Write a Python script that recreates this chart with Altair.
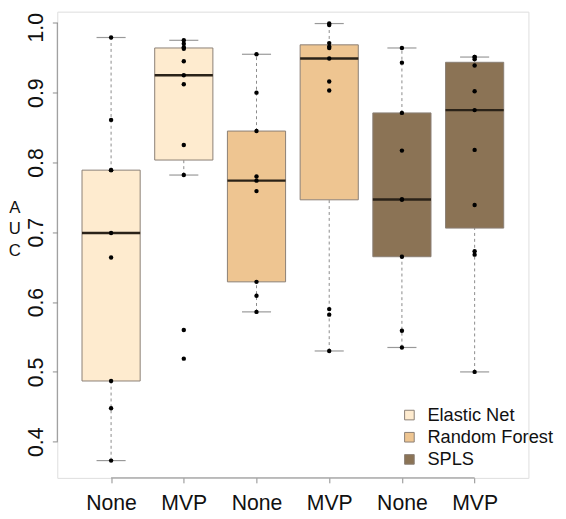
import json
import altair as alt
import pandas as pd

# ---- data ----
methods = ["Elastic Net", "Random Forest", "SPLS"]
conditions = ["None", "MVP"]
fills = ["#FEEBCF", "#EEC591", "#8B7355"]

auc_en_none = [0.979, 0.861, 0.789, 0.789, 0.699, 0.664, 0.487, 0.448, 0.373]
auc_en_mvp = [0.975, 0.970, 0.965, 0.963, 0.945, 0.925, 0.912, 0.825, 0.782, 0.560, 0.519]
auc_rf_none = [0.955, 0.900, 0.845, 0.780, 0.774, 0.759, 0.629, 0.609, 0.586]
auc_rf_mvp = [0.999, 0.997, 0.971, 0.966, 0.964, 0.949, 0.916, 0.903, 0.590, 0.582, 0.530]
auc_spls_none = [0.964, 0.943, 0.871, 0.817, 0.747, 0.747, 0.665, 0.559, 0.535]
auc_spls_mvp = [0.951, 0.951, 0.948, 0.939, 0.902, 0.875, 0.818, 0.739, 0.673, 0.668, 0.500]

y_ticks = [0.4, 0.5, 0.6, 0.7, 0.8, 0.9, 1.0]
x_labels = ["None", "MVP", "None", "MVP", "None", "MVP"]
y_title_letters = ["A", "U", "C"]

groups = [
    ("Elastic Net", "None", auc_en_none),
    ("Elastic Net", "MVP", auc_en_mvp),
    ("Random Forest", "None", auc_rf_none),
    ("Random Forest", "MVP", auc_rf_mvp),
    ("SPLS", "None", auc_spls_none),
    ("SPLS", "MVP", auc_spls_mvp),
]
rows = []
for i, (m, c, vals) in enumerate(groups):
    for v in vals:
        rows.append({"pos": i + 1, "method": m, "cond": c, "auc": v})
df = pd.DataFrame(rows)

FONT = "Liberation Sans"
AXIS_GRAY = "#8c8c8c"
BOX_STROKE = "#8a7f75"

xs = alt.Scale(domain=[0.26, 6.74], nice=False, zero=False)
ys = alt.Scale(domain=[0.3482, 1.016], nice=False, zero=False)

label_expr = json.dumps(x_labels) + "[datum.value - 1]"
xaxis = alt.Axis(values=list(range(1, 7)), labelExpr=label_expr, domain=False, grid=False,
                 tickSize=5, tickColor=AXIS_GRAY, labelFontSize=21.5, labelFont=FONT,
                 labelColor="#111111", labelPadding=10, labelAngle=0, title=None)
yaxis = alt.Axis(values=y_ticks, format=".1f", domain=False, grid=False, tickSize=5,
                 tickColor=AXIS_GRAY, labelFontSize=21.5, labelFont=FONT, labelColor="#111111",
                 labelAngle=-90, labelAlign="center", labelBaseline="alphabetic", labelPadding=10,
                 labelOffset={"condition": {"test": "datum.value >= 0.999", "value": 4.5},
                              "value": 0},
                 title=None)


def X(field):
    return alt.X(field, type="quantitative", scale=xs, axis=xaxis)


def Y(field):
    return alt.Y(field, type="quantitative", scale=ys, axis=yaxis)


base = alt.Chart(df)

# whiskers (1.5 IQR rule)
whisk = (
    base.transform_joinaggregate(q1="q1(auc)", q3="q3(auc)", groupby=["pos"])
    .transform_calculate(lo="datum.q1 - 1.5*(datum.q3 - datum.q1)",
                         hi="datum.q3 + 1.5*(datum.q3 - datum.q1)")
    .transform_filter("datum.auc >= datum.lo && datum.auc <= datum.hi")
    .transform_aggregate(wmin="min(auc)", wmax="max(auc)", groupby=["pos", "q1", "q3"])
    .transform_calculate(cl="datum.pos - 0.2", cr="datum.pos + 0.2")
)
w_lo = whisk.mark_rule(color="#8a8a8a", strokeDash=[3, 3], strokeWidth=1).encode(
    x=X("pos"), y=Y("wmin"), y2="q1")
w_hi = whisk.mark_rule(color="#8a8a8a", strokeDash=[3, 3], strokeWidth=1).encode(
    x=X("pos"), y=Y("q3"), y2="wmax")
cap_lo = whisk.mark_rule(color="#999999", strokeWidth=1.2).encode(
    x=X("cl"), x2="cr", y=Y("wmin"))
cap_hi = whisk.mark_rule(color="#999999", strokeWidth=1.2).encode(
    x=X("cl"), x2="cr", y=Y("wmax"))

box = (
    base.transform_aggregate(q1="q1(auc)", q3="q3(auc)", med="median(auc)",
                             groupby=["pos", "method"])
    .transform_calculate(xl="datum.pos - 0.4", xr="datum.pos + 0.4")
)
rect = box.mark_rect(stroke=BOX_STROKE, strokeWidth=1).encode(
    x=X("xl"), x2="xr", y=Y("q1"), y2="q3",
    fill=alt.Fill("method:N", scale=alt.Scale(domain=methods, range=fills),
                  legend=alt.Legend(title=None, orient="none", legendX=348, legendY=400,
                                    padding=0, symbolType="square", symbolSize=95,
                                    symbolStrokeColor=BOX_STROKE, symbolStrokeWidth=1,
                                    labelFontSize=18.5, labelFont=FONT, labelColor="#111111",
                                    labelOffset=9, rowPadding=3.5, labelLimit=300)),
)
med = box.mark_rule(color="#2a2218", strokeWidth=2.5).encode(
    x=X("xl"), x2="xr", y=Y("med"))

pts = base.mark_circle(size=20, color="black", opacity=1).encode(x=X("pos"), y=Y("auc"))

# R-style axis lines spanning first to last tick only
yline_df = pd.DataFrame({"x": [0.26], "y": [min(y_ticks)], "y2": [max(y_ticks)]})
yline = alt.Chart(yline_df).mark_rule(color=AXIS_GRAY, strokeWidth=1).encode(
    x=X("x"), y=Y("y"), y2="y2")
xline_df = pd.DataFrame({"x": [1], "x2": [len(x_labels)], "y": [0.3482]})
xline = alt.Chart(xline_df).mark_rule(color=AXIS_GRAY, strokeWidth=1).encode(
    x=X("x"), x2="x2", y=Y("y"))

# y-axis title written as stacked upright letters
title_df = pd.DataFrame({"t": ["\n".join(y_title_letters)]})
ytitle = alt.Chart(title_df).mark_text(
    font=FONT, fontSize=17, color="#111111", lineBreak="\n", lineHeight=22,
    align="center", baseline="middle").encode(
    x=alt.value(-43), y=alt.value(199), text="t:N")

chart = (
    alt.layer(w_lo, w_hi, rect, med, cap_lo, cap_hi, pts, yline, xline, ytitle)
    .properties(width=478, height=473, autosize=alt.AutoSizeParams(type="none"),
                padding={"left": 50, "top": 0, "right": 30, "bottom": 40})
    .configure_view(strokeWidth=0, stroke="transparent")
    .configure(background="white")
)

chart.save("out.html", embed_options={"renderer": "svg", "actions": False})
